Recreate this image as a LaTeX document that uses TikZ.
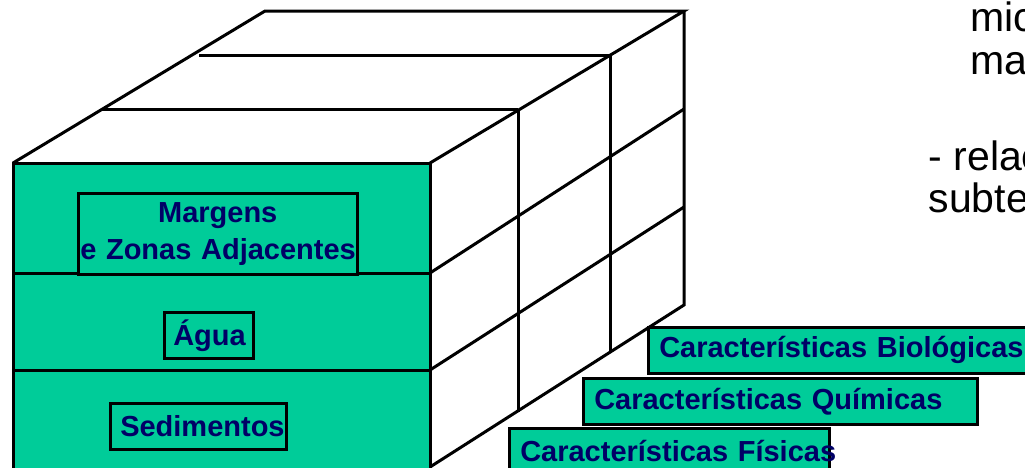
\documentclass[tikz,border=0pt]{standalone}
\usepackage{fontspec}
\usepackage{tikz}
\setmainfont{Liberation Sans}
\definecolor{mgreen}{RGB}{0, 204, 153}
\definecolor{mnavy}{RGB}{0, 0, 102}

\begin{document}
\begin{tikzpicture}[x=1pt, y=-1pt,
    edge/.style={line width=3pt},
    tagbox/.style={draw, line width=2.5pt, fill=mgreen, text=mnavy, anchor=north west, align=left, inner ysep=0pt, minimum height=46pt, font=\bfseries\fontsize{29}{37}\selectfont},
    note/.style={anchor=base west, font=\fontsize{41}{50}\selectfont}]
  \path [use as bounding box, clip] (0, 0) rectangle (1025, 467);

  % front face
  \fill [mgreen] (13, 163) rectangle (430, 475);
  \draw [edge] (13, 475) -- (13, 163) -- (430, 163) -- (430, 475);
  \draw [edge] (13, 273) -- (430, 273);
  \draw [edge] (13, 370) -- (430, 370);

  % top face
  \draw [edge] (13, 163) -- (265, 11) -- (684, 11) -- (430, 163);
  \draw [edge] (102, 109) -- (518, 109);
  \draw [edge] (199, 55) -- (610, 55);

  % right face
  \draw [edge] (684, 11) -- (684, 305) -- (430, 467);
  \draw [edge] (430, 273) -- (684, 109);
  \draw [edge] (430, 370) -- (684, 207);
  \draw [edge] (518, 109) -- (518, 412);
  \draw [edge] (610, 55) -- (610, 351);

  % layers
  \node [tagbox, align=center, text width=275pt, inner xsep=2pt, minimum height=81pt] (margens) at (77, 192) {\mbox{Margens}\\\mbox{e Zonas Adjacentes}};
  \node [tagbox, text width=71pt, inner xsep=9pt] (agua) at (163, 311) {\mbox{Água}};
  \node [tagbox, text width=156pt, inner xsep=10pt] (sedimentos) at (109, 402) {\mbox{Sedimentos}};

  % characteristics
  \node [tagbox, text width=370pt, inner xsep=11pt] (biologicas) at (647, 326) {\mbox{Características Biológicas}};
  \node [tagbox, text width=372pt, inner xsep=11pt] (quimicas) at (582, 377) {\mbox{Características Químicas}};
  \node [tagbox, text width=298pt, inner xsep=11pt] (fisicas) at (508, 427) {\mbox{Características Físicas}};

  % notes
  \node [note] (mic) at (967, 31) {mic};
  \node [note] (mat) at (967, 74) {mat};
  \node [note] (relac) at (925, 170) {- relac};
  \node [note] (subte) at (925, 212) {subte};
\end{tikzpicture}
\end{document}
